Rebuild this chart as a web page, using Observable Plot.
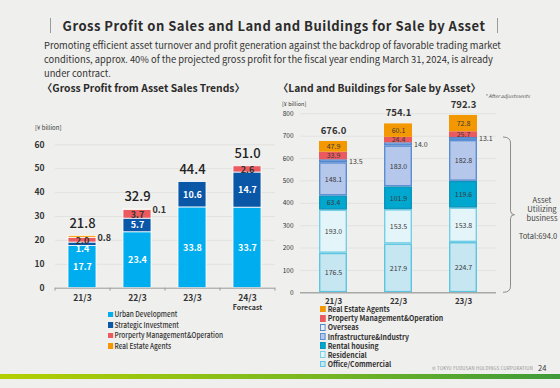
<!DOCTYPE html>
<html>
<head>
<meta charset="utf-8">
<script src="https://cdn.jsdelivr.net/npm/d3@7"></script>
<script src="https://cdn.jsdelivr.net/npm/@observablehq/plot@0.6"></script>
<style>
  html, body { margin:0; padding:0; }
  body { width:560px; height:388px; position:relative; overflow:hidden; background:#efefed;
         font-family:"Noto Sans CJK JP","Noto Sans",sans-serif; color:#333; }
  .abs { position:absolute; white-space:nowrap; }
  .plotwrap { position:absolute; left:0; top:0; }
  .leg { position:absolute; display:flex; align-items:center; white-space:nowrap; transform-origin:left center; }
  .leg i { display:inline-block; box-sizing:border-box; margin-right:2px; }
</style>
</head>
<body>
<script>
// ---------- data ----------
const leftCats = ["21/3", "22/3", "23/3", "24/3"];
const leftSeries = ["Urban Development", "Strategic Investment", "Prorperty Management&Operation", "Real Estate Agents"];
const urbanDevelopment = [17.7, 23.4, 33.8, 33.7];
const strategicInvestment = [1.4, 5.7, 10.6, 14.7];
const propertyManagement = [2.0, 3.7, 0, 2.6];
const realEstateAgents = [0.8, 0.1, 0, 0];
const leftTotals = [21.8, 32.9, 44.4, 51.0];
const leftTicks = [0, 10, 20, 30, 40, 50, 60];

const rightCats = ["21/3", "22/3", "23/3"];
const rightSeries = ["Office/Commercial", "Residencial", "Rental housing", "Infrastructure&Industry", "Overseas", "Property Management&Operation", "Real Estate Agents"];
const officeCommercial = [176.5, 217.9, 224.7];
const residential = [193.0, 153.5, 153.8];
const rentalHousing = [63.4, 101.9, 119.6];
const infraIndustry = [148.1, 183.0, 182.8];
const overseas = [13.5, 14.0, 13.1];
const propertyManagementR = [33.9, 24.4, 25.7];
const realEstateAgentsR = [47.9, 60.1, 72.8];
const rightTotals = [676.0, 754.1, 792.3];
const rightTicks = [0, 100, 200, 300, 400, 500, 600, 700, 800];
const assetUtilizingTotal = 694.0;

// ---------- styles ----------
const FONT = '"Noto Sans CJK JP","Noto Sans",sans-serif';
const leftFill = ["#00aeef", "#0a57a8", "#ea5a5f", "#f39800"];
const rightFill = ["#c6e6f1", "#e4f5fa", "#00a7cf", "#b5c7ea", "#e9eef9", "#ea5a5f", "#f39800"];
const rightStroke = ["#5cc6e2", "#74cfe6", "#0a95bd", "#5b8fd3", "#4f86cf", "#ea5a5f", "#f39800"];

function stackRows(cats, series, arrays) {
  const rows = [];
  cats.forEach((c, ci) => {
    let acc = 0;
    series.forEach((s, si) => {
      const v = arrays[si][ci];
      rows.push({cat: c, series: s, si, value: v, y1: acc, y2: acc + v, mid: acc + v / 2});
      acc += v;
    });
  });
  return rows;
}

const leftRows = stackRows(leftCats, leftSeries, [urbanDevelopment, strategicInvestment, propertyManagement, realEstateAgents]);
const rightRows = stackRows(rightCats, rightSeries, [officeCommercial, residential, rentalHousing, infraIndustry, overseas, propertyManagementR, realEstateAgentsR]);
const leftTotalRows = leftCats.map((c, i) => ({cat: c, total: leftTotals[i], top: leftRows.filter(r => r.cat === c).reduce((a, r) => a + r.value, 0)}));
const rightTotalRows = rightCats.map((c, i) => ({cat: c, total: rightTotals[i], top: rightRows.filter(r => r.cat === c).reduce((a, r) => a + r.value, 0)}));

// ---------- left chart ----------
const leftPlot = Plot.plot({
  width: 560, height: 388,
  marginLeft: 55, marginRight: 285, marginTop: 144.3, marginBottom: 100.3,
  style: {background: "transparent", fontFamily: FONT, fontSize: "8.5px", fontWeight: "bold", color: "#333", overflow: "visible"},
  x: {domain: leftCats, paddingInner: 0.49, paddingOuter: 0.245, tickSize: 0, tickPadding: 6.5, label: null},
  y: {domain: [0, 60], ticks: leftTicks, tickSize: 0, tickPadding: 11, label: null},
  color: {type: "identity"},
  marks: [
    Plot.ruleY(leftTicks.slice(1), {y: d => d, stroke: "#e2e2e0", strokeWidth: 1}),
    Plot.barY(leftRows.filter(r => r.value > 0), {x: "cat", y1: "y1", y2: "y2", fill: d => leftFill[d.si], stroke: "#ffffff", strokeWidth: 0.8}),
    Plot.ruleY([0], {stroke: "#9a9a9a", strokeWidth: 1}),
    Plot.ruleX(leftCats, {x: d => d, dx: -27.5, y1: 0, y2: -1.2, stroke: "#9a9a9a"}),
    Plot.ruleX(leftCats.slice(-1), {x: d => d, dx: 27.5, y1: 0, y2: -1.2, stroke: "#9a9a9a"}),
    // in-bar labels
    Plot.text(leftRows.filter(r => r.si < 2 && r.value >= 2), {x: "cat", y: "mid", text: d => d.value.toFixed(1), fill: "#ffffff", fontSize: 9, fontWeight: "bold"}),
    Plot.text(leftRows.filter(r => r.si < 2 && r.value < 2), {x: "cat", y: "mid", text: d => d.value.toFixed(1), fill: "#ffffff", fontSize: 9, fontWeight: "bold", dy: 5}),
    Plot.text(leftRows.filter(r => r.si === 2 && r.value > 0), {x: "cat", y: "mid", text: d => d.value.toFixed(1), fill: "#333", fontSize: 9, fontWeight: "bold", dy: 1}),
    Plot.text(leftRows.filter(r => r.si === 3 && r.value > 0), {x: "cat", y: "y1", text: d => d.value.toFixed(1), fill: "#333", fontSize: 9, fontWeight: "bold", textAnchor: "start", dx: 15}),
    // totals
    Plot.text(leftTotalRows, {x: "cat", y: "top", text: d => d.total.toFixed(1), fill: "#222", fontSize: 13, fontWeight: 500, dy: -12.5}),
    Plot.text(["Forecast"], {x: () => "24/3", frameAnchor: "bottom", text: d => d, fontSize: 7, fontWeight: "bold", fill: "#333", dy: 21.5})
  ]
});
leftPlot.classList.add("plotwrap");
document.body.appendChild(leftPlot);

// ---------- right chart ----------
const rightPlot = Plot.plot({
  width: 560, height: 388,
  marginLeft: 300, marginRight: 64, marginTop: 113.3, marginBottom: 95.7,
  style: {background: "transparent", fontFamily: FONT, fontSize: "6.5px", color: "#333", overflow: "visible"},
  x: {domain: rightCats, paddingInner: 0.571, paddingOuter: 0.2855, tickSize: 0, tickPadding: 5.5, label: null},
  y: {domain: [0, 800], ticks: rightTicks, tickSize: 0, tickPadding: 7, label: null},
  color: {type: "identity"},
  marks: [
    Plot.ruleY(rightTicks.slice(1), {y: d => d, stroke: "#e2e2e0", strokeWidth: 1}),
    Plot.barY(rightRows, {x: "cat", y1: "y1", y2: "y2", fill: d => rightFill[d.si], stroke: d => rightStroke[d.si], strokeWidth: 1.4, insetTop: 0.7, insetBottom: 0.7, insetLeft: 0.7, insetRight: 0.7}),
    Plot.ruleY([0], {stroke: "#a8a8a8", strokeWidth: 1.5}),
    Plot.text(rightRows.filter(r => r.si !== 4), {x: "cat", y: "mid", text: d => d.value.toFixed(1), fill: "#3a3a3a", fontSize: 7}),
    Plot.text(rightRows.filter(r => r.si === 4), {x: "cat", y: "mid", text: d => d.value.toFixed(1), fill: "#3a3a3a", fontSize: 7, textAnchor: "start", dx: 15.5}),
    Plot.text(rightTotalRows, {x: "cat", y: "top", text: d => d.total.toFixed(1), fill: "#333", fontSize: 9.5, fontWeight: "bold", dy: -11})
  ]
});
rightPlot.classList.add("plotwrap");
document.body.appendChild(rightPlot);
// x tick labels bold & larger on the right chart
d3.select(rightPlot).selectAll('g[aria-label="x-axis tick label"] text, g[aria-label="x-axis"] text').attr("font-size", 8).attr("font-weight", "bold");

// brace over the asset-utilizing business (derived from the y scale)
const ys = rightPlot.scale("y");
const yTop = ys.apply(assetUtilizingTotal), yBot = ys.apply(0), yMid = (yTop + yBot) / 2;
const xv = 510.5, x0 = 503, xn = 514.5;
const ov = d3.create("svg").attr("width", 560).attr("height", 388).attr("class", "plotwrap").style("pointer-events", "none");
ov.append("path")
  .attr("d", `M${x0},${yTop} Q${xv},${yTop} ${xv},${yTop + 6} L${xv},${yMid - 4} Q${xv},${yMid} ${xn},${yMid} Q${xv},${yMid} ${xv},${yMid + 4} L${xv},${yBot - 6} Q${xv},${yBot} ${x0},${yBot}`)
  .attr("fill", "none").attr("stroke", "#8c8c8c").attr("stroke-width", 1);
document.body.appendChild(ov.node());

// ---------- html text ----------
function addText(txt, css) {
  const d = document.createElement("div");
  d.className = "abs";
  d.innerHTML = txt;
  Object.assign(d.style, css);
  document.body.appendChild(d);
  return d;
}
// title
addText("Gross Profit on Sales and Land and Buildings for Sale by Asset",
  {left: "0px", width: "548px", textAlign: "center", top: "16px", fontSize: "13px", fontWeight: "bold", letterSpacing: "0.5px", color: "#2b2b2b", lineHeight: "20px"});
addText("", {left: "50px", top: "18px", width: "1px", height: "15px", background: "#9a9a9a"});
addText("", {left: "497px", top: "18px", width: "1px", height: "15px", background: "#9a9a9a"});
// subtitle
addText("Promoting efficient asset turnover and profit generation against the backdrop of favorable trading market<br>conditions, approx. 40% of the projected gross profit for the fiscal year ending March 31, 2024, is already<br>under contract.",
  {left: "44px", top: "38px", fontSize: "9.35px", lineHeight: "14px", color: "#333"});
// section titles
addText("〈Gross Profit from Asset Sales Trends〉", {left: "42px", top: "81px", fontSize: "10.3px", fontWeight: "bold", lineHeight: "14px", color: "#2b2b2b"});
addText("〈Land and Buildings for Sale by Asset〉", {left: "278px", top: "81px", fontSize: "10.3px", fontWeight: "bold", lineHeight: "14px", color: "#2b2b2b"});
addText("* After adjustments", {left: "485px", top: "92px", fontSize: "5px", fontStyle: "italic", lineHeight: "8px", color: "#555"});
addText("[¥ billion]", {left: "35px", top: "124px", fontSize: "6px", lineHeight: "8px", color: "#333"});
addText("[¥ billion]", {left: "282px", top: "99.5px", fontSize: "5.5px", lineHeight: "8px", color: "#333"});
// brace labels
addText("Asset<br>Utilizing<br>business", {left: "512px", width: "60px", textAlign: "center", top: "194.5px", fontSize: "7.6px", lineHeight: "9.2px", color: "#444"});
addText("Total:" + assetUtilizingTotal.toFixed(1), {left: "508px", width: "60px", textAlign: "center", top: "231px", fontSize: "7.6px", lineHeight: "10px", color: "#444"});

// legends
leftSeries.forEach((s, i) => {
  const d = document.createElement("div");
  d.className = "leg";
  Object.assign(d.style, {left: "108px", top: (310 + i * 10.5) + "px", height: "8.5px", lineHeight: "8.5px", fontSize: "7.6px", fontWeight: "500", color: "#333", transform: "scaleX(0.86)"});
  d.innerHTML = `<i style="width:5.5px;height:5.5px;background:${leftFill[i]}"></i>${s}`;
  document.body.appendChild(d);
});
const rightLegendOrder = [6, 5, 4, 3, 2, 1, 0];
rightLegendOrder.forEach((si, k) => {
  const d = document.createElement("div");
  d.className = "leg";
  Object.assign(d.style, {left: "319.5px", top: (305.3 + k * 9.07) + "px", height: "8px", lineHeight: "8px", fontSize: "7.5px", fontWeight: "bold", color: "#333", transform: "scaleX(0.92)"});
  d.innerHTML = `<i style="width:6.4px;height:6.4px;background:${rightFill[si]};border:1.2px solid ${rightStroke[si]}"></i>${rightSeries[si]}`;
  document.body.appendChild(d);
});

// footer
addText("© TOKYU FUDOSAN HOLDINGS CORPORATION", {left: "432px", top: "365px", fontSize: "4.3px", lineHeight: "6px", color: "#8a8a8a", letterSpacing: "0.25px"});
addText("24", {left: "538px", top: "362.5px", fontSize: "7.5px", lineHeight: "10px", color: "#333"});
addText("", {left: "0px", top: "374px", width: "560px", height: "5px", background: "linear-gradient(to right,#b4cf00,#7fbb1e 50%,#3e9a3a)"});
</script>
</body>
</html>
